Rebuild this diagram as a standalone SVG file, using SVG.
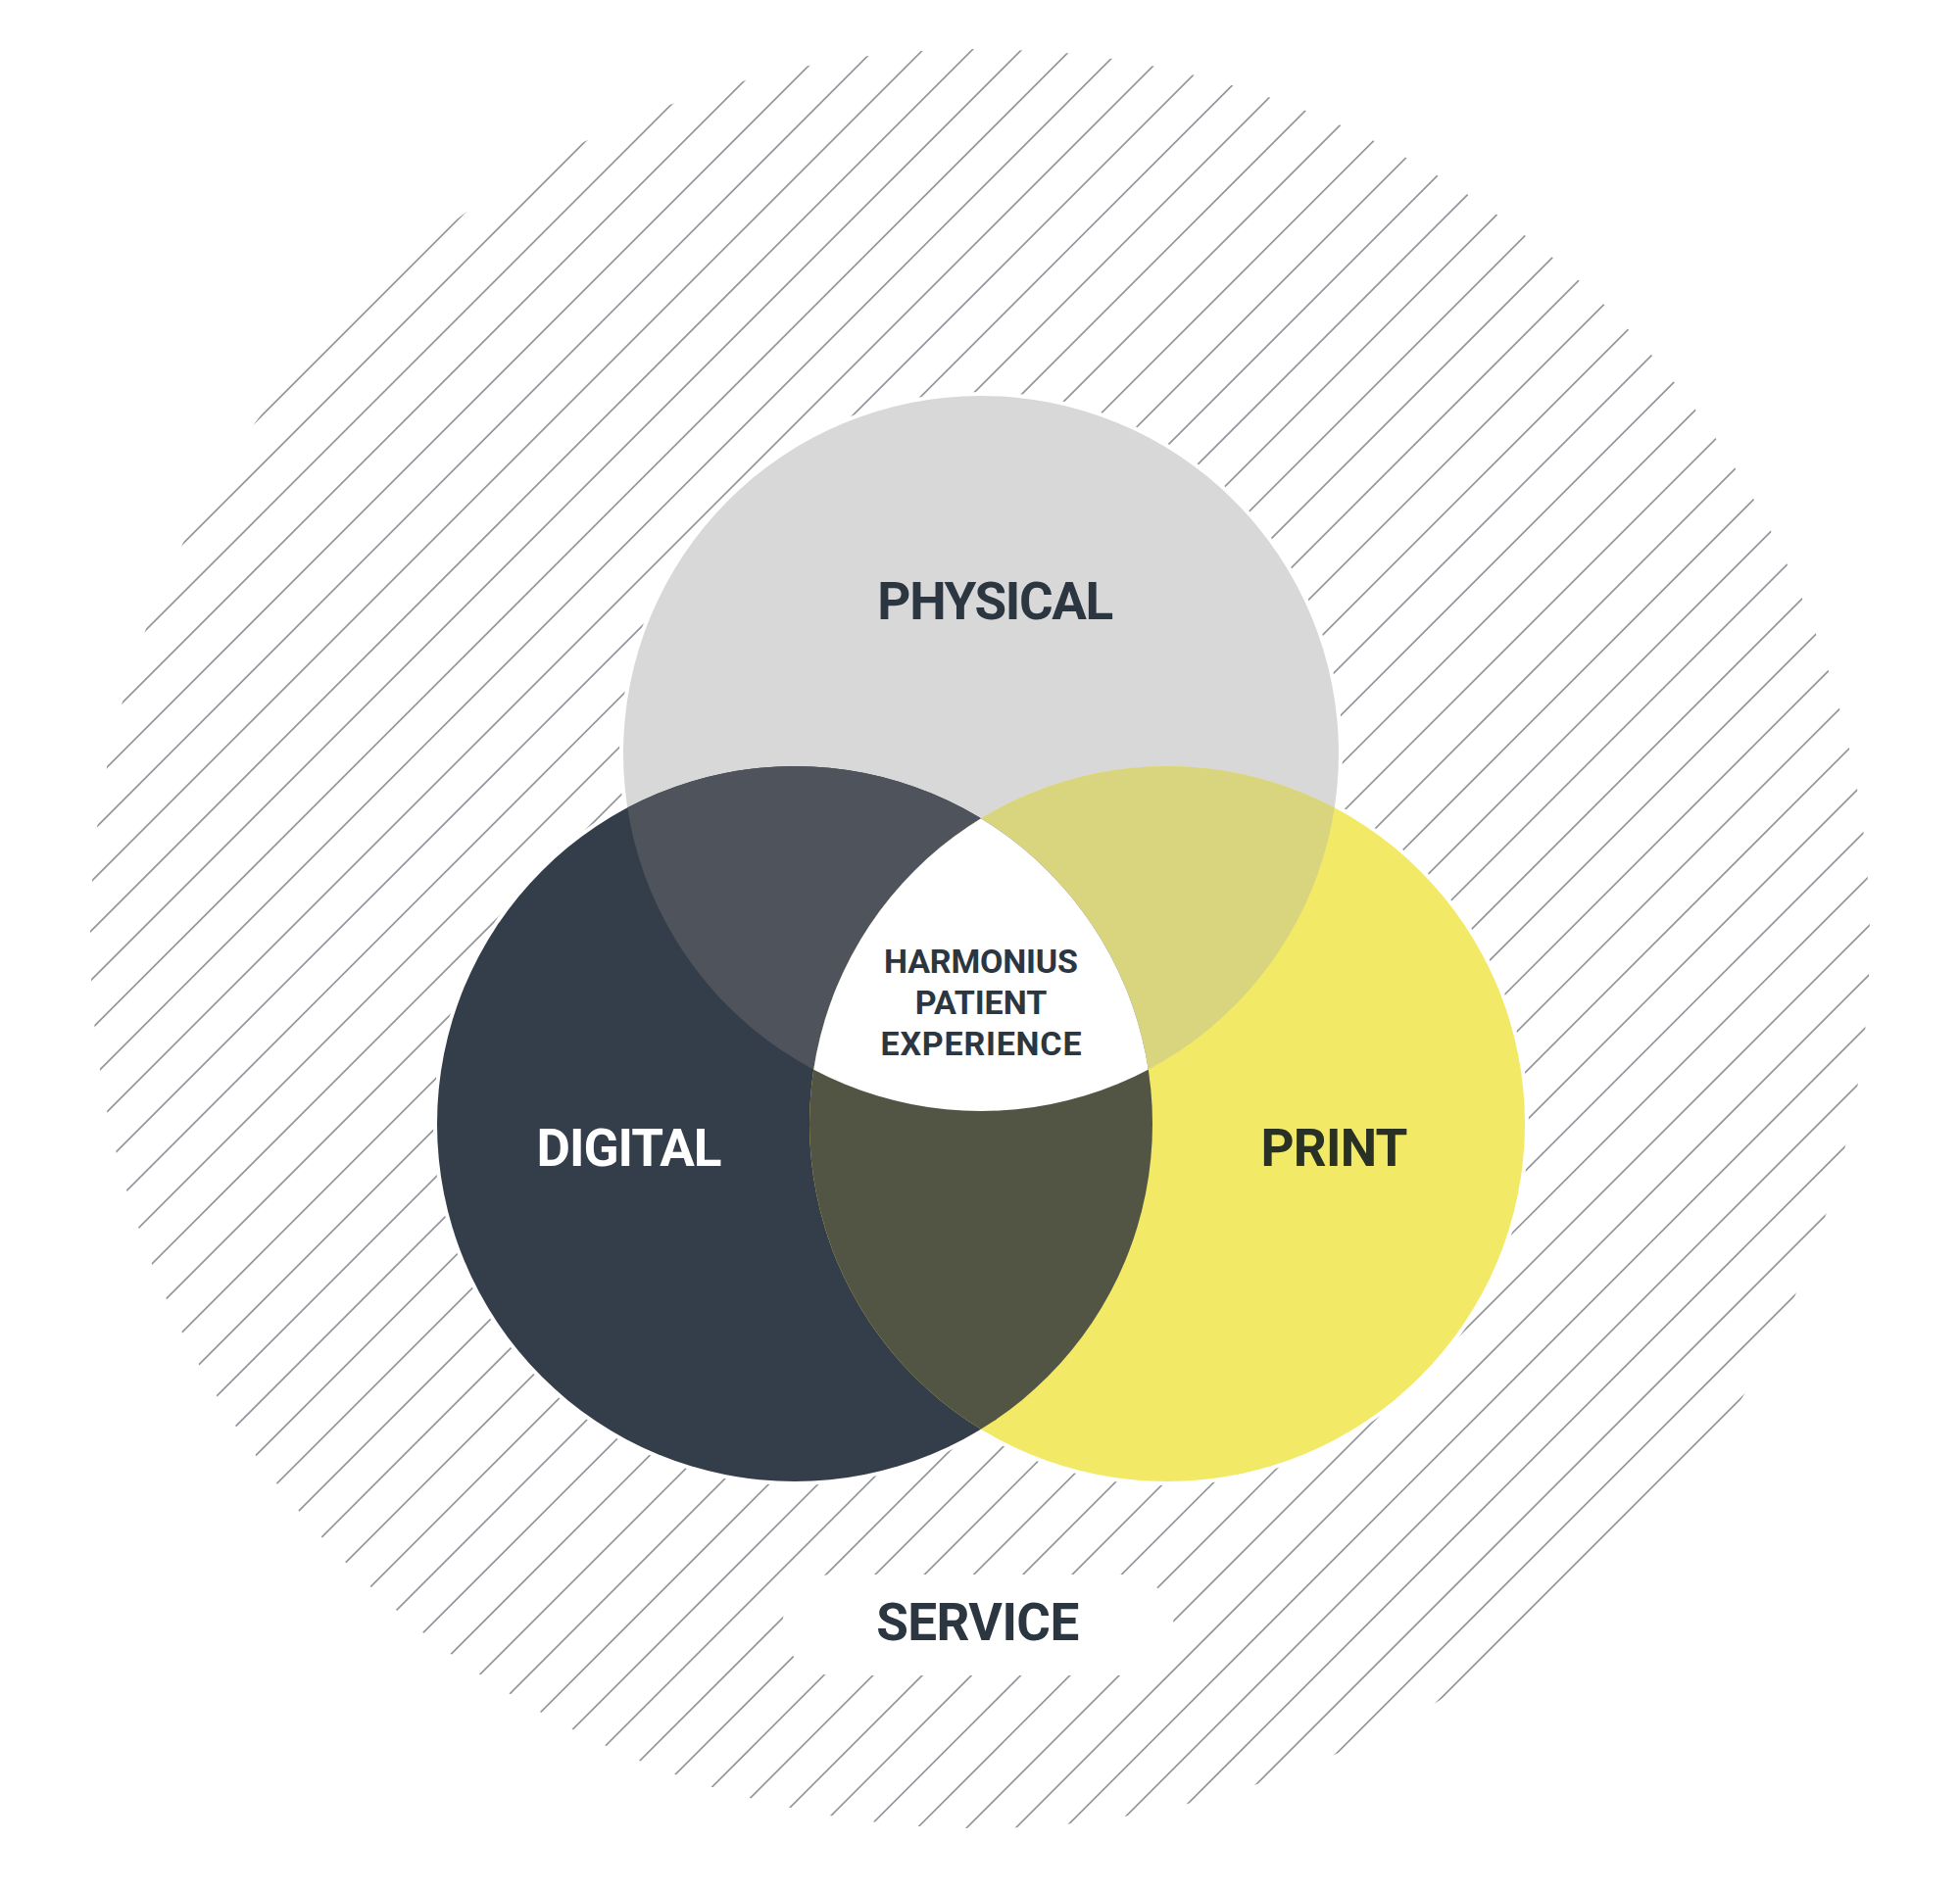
<svg xmlns="http://www.w3.org/2000/svg" width="2000" height="1929" viewBox="0 0 2000 1929">
  <style>
    .hatch { stroke: #95979c; stroke-width: 1.7; fill: none; }
    .lbl { font-family: Roboto, "Liberation Sans", sans-serif; font-weight: bold; text-anchor: middle; }
    .big { font-size: 53px; }
    .small { font-size: 34px; }
  </style>
  <defs>
    <clipPath id="outer"><circle cx="1000" cy="958" r="908"/></clipPath>
    <clipPath id="cPhys"><circle cx="1001" cy="769" r="365"/></clipPath>
    <clipPath id="cDig"><circle cx="811" cy="1147" r="365"/></clipPath>
    <clipPath id="cPrint"><circle cx="1191" cy="1147" r="365"/></clipPath>
  </defs>
  <rect width="2000" height="1929" fill="#ffffff"/>

  <g id="service-hatch">
    <path class="hatch" clip-path="url(#outer)" d="M691.2 0l-1929 1929M741.45 0l-1929 1929M791.7 0l-1929 1929M841.95 0l-1929 1929M892.2 0l-1929 1929M942.45 0l-1929 1929M992.7 0l-1929 1929M1042.95 0l-1929 1929M1093.2 0l-1929 1929M1143.45 0l-1929 1929M1193.7 0l-1929 1929M1243.95 0l-1929 1929M1294.2 0l-1929 1929M1344.45 0l-1929 1929M1394.7 0l-1929 1929M1444.95 0l-1929 1929M1495.2 0l-1929 1929M1545.45 0l-1929 1929M1595.7 0l-1929 1929M1645.95 0l-1929 1929M1696.2 0l-1929 1929M1746.45 0l-1929 1929M1796.7 0l-1929 1929M1846.95 0l-1929 1929M1897.2 0l-1929 1929M1947.45 0l-1929 1929M1997.7 0l-1929 1929M2047.95 0l-1929 1929M2098.2 0l-1929 1929M2148.45 0l-1929 1929M2198.7 0l-1929 1929M2248.95 0l-1929 1929M2299.2 0l-1929 1929M2349.45 0l-1929 1929M2399.7 0l-1929 1929M2449.95 0l-1929 1929M2500.2 0l-1929 1929M2550.45 0l-1929 1929M2600.7 0l-1929 1929M2650.95 0l-1929 1929M2701.2 0l-1929 1929M2751.45 0l-1929 1929M2801.7 0l-1929 1929M2851.95 0l-1929 1929M2902.2 0l-1929 1929M2952.45 0l-1929 1929M3002.7 0l-1929 1929M3052.95 0l-1929 1929M3103.2 0l-1929 1929M3153.45 0l-1929 1929M3203.7 0l-1929 1929"/>
    <rect x="798.5" y="1607" width="399" height="103" rx="51.5" fill="#ffffff"/>
    <circle cx="1001" cy="769" r="369" fill="#ffffff"/>
    <circle cx="811" cy="1147" r="369" fill="#ffffff"/>
    <circle cx="1191" cy="1147" r="369" fill="#ffffff"/>
  </g>

  <g id="physical">
    <circle cx="1001" cy="769" r="365" fill="#d9d8d9"/>
  </g>
  <g id="digital">
    <circle cx="811" cy="1147" r="365" fill="#333e4a"/>
  </g>
  <g id="print">
    <circle cx="1191" cy="1147" r="365" fill="#f2e966"/>
  </g>
  <g id="overlaps">
    <circle cx="1001" cy="769" r="365" fill="#4f535c" clip-path="url(#cDig)"/>
    <circle cx="1001" cy="769" r="365" fill="#d9d57f" clip-path="url(#cPrint)"/>
    <circle cx="811" cy="1147" r="365" fill="#525544" clip-path="url(#cPrint)"/>
  </g>
  <g id="center">
    <g clip-path="url(#cDig)">
      <circle cx="1001" cy="769" r="365" fill="#ffffff" clip-path="url(#cPrint)"/>
    </g>
    <text class="lbl small" fill="#2c3641" x="1001" y="993.3" textLength="198" lengthAdjust="spacing">HARMONIUS</text>
    <text class="lbl small" fill="#2c3641" x="1001" y="1035" textLength="134.5" lengthAdjust="spacing">PATIENT</text>
    <text class="lbl small" fill="#2c3641" x="1001" y="1076.7" textLength="205" lengthAdjust="spacing">EXPERIENCE</text>
  </g>

  <g id="labels">
    <text id="physical-label" class="lbl big" fill="#2c3641" x="1015.8" y="632.3" textLength="241" lengthAdjust="spacing">PHYSICAL</text>
    <text id="digital-label" class="lbl big" fill="#ffffff" x="642" y="1190" textLength="189" lengthAdjust="spacing">DIGITAL</text>
    <text id="print-label" class="lbl big" fill="#283124" x="1361.4" y="1190" textLength="150" lengthAdjust="spacing">PRINT</text>
  </g>
  <g id="service">
    <text class="lbl big" fill="#2c3641" x="997.7" y="1674" textLength="207" lengthAdjust="spacing">SERVICE</text>
  </g>
</svg>
